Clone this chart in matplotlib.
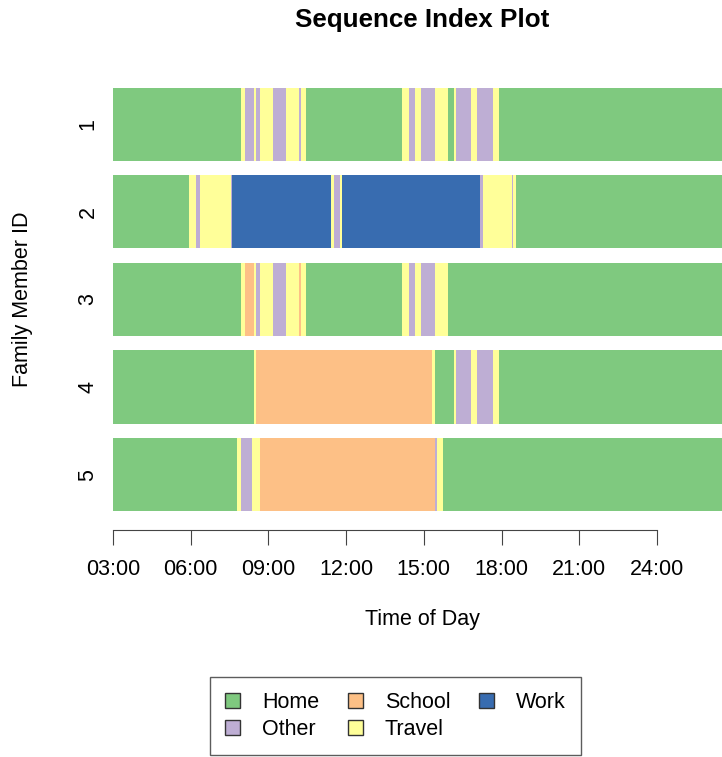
import numpy as np
import matplotlib.pyplot as plt
from matplotlib.patches import Patch

plt.rcParams['font.family'] = ['Liberation Sans', 'DejaVu Sans']

# states and colours (Accent palette)
state_names = ['Home', 'Other', 'School', 'Travel', 'Work']
state_colors = {'Home': '#7FC97F', 'Other': '#BEAED4', 'School': '#FDC086',
                'Travel': '#FFFF99', 'Work': '#386CB0'}

# episode start times (hours from midnight, day runs 03:00 -> 27:00)
day_end = 27.0

m1_start = [3.00, 7.93, 8.10, 8.45, 8.52, 8.69, 9.19, 9.67, 10.19, 10.26, 10.44,
            14.17, 14.41, 14.66, 14.90, 15.43, 15.92, 16.18, 16.23, 16.82, 17.07,
            17.66, 17.90]
m1_state = ['Home', 'Travel', 'Other', 'Travel', 'Other', 'Travel', 'Other', 'Travel',
            'Other', 'Travel', 'Home', 'Travel', 'Other', 'Travel', 'Other', 'Travel',
            'Home', 'Travel', 'Other', 'Travel', 'Other', 'Travel', 'Home']

m2_start = [3.00, 5.95, 6.19, 6.36, 7.56, 7.61, 11.43, 11.52, 11.76, 11.83, 17.17,
            17.27, 18.39, 18.46, 18.55]
m2_state = ['Home', 'Travel', 'Other', 'Travel', 'Other', 'Work', 'Travel', 'Other',
            'Travel', 'Work', 'Other', 'Travel', 'Other', 'Travel', 'Home']

m3_start = [3.00, 7.93, 8.10, 8.45, 8.52, 8.69, 9.19, 9.67, 10.19, 10.26, 10.44,
            14.17, 14.41, 14.66, 14.90, 15.43, 15.92]
m3_state = ['Home', 'Travel', 'School', 'Travel', 'Other', 'Travel', 'Other', 'Travel',
            'School', 'Travel', 'Home', 'Travel', 'Other', 'Travel', 'Other', 'Travel',
            'Home']

m4_start = [3.00, 8.46, 8.51, 15.32, 15.42, 16.17, 16.23, 16.82, 17.07, 17.66, 17.90]
m4_state = ['Home', 'Travel', 'School', 'Travel', 'Home', 'Travel', 'Other', 'Travel',
            'Other', 'Travel', 'Home']

m5_start = [3.00, 7.79, 7.93, 8.35, 8.69, 15.43, 15.50, 15.74]
m5_state = ['Home', 'Travel', 'Other', 'Travel', 'School', 'Other', 'Travel', 'Home']

members = [1, 2, 3, 4, 5]
starts = [m1_start, m2_start, m3_start, m4_start, m5_start]
states = [m1_state, m2_state, m3_state, m4_state, m5_state]

tick_hours = [3, 6, 9, 12, 15, 18, 21, 24]
tick_labels = ['03:00', '06:00', '09:00', '12:00', '15:00', '18:00', '21:00', '24:00']

fig = plt.figure(figsize=(7.22, 7.57), dpi=100)
ax = fig.add_axes([0.1565, 0.3151, 0.861, 0.5787])

for m, st, sq in zip(members, starts, states):
    st = np.asarray(st)
    ends = np.append(st[1:], day_end)
    ax.barh(np.full(len(st), m), ends - st, left=st, height=0.835,
            color=[state_colors[s] for s in sq], edgecolor='none')

ax.set_xlim(3, day_end)
ax.set_ylim(5.5, 0.5)

for side in ['top', 'right', 'left']:
    ax.spines[side].set_visible(False)
ax.spines['bottom'].set_position(('outward', 8))
ax.spines['bottom'].set_bounds(3, 24)
ax.spines['bottom'].set_color('#444444')

ax.set_xticks(tick_hours)
ax.set_xticklabels(tick_labels, fontsize=15.5)
ax.tick_params(axis='x', length=11, pad=10, color='#444444')

ax.set_yticks(members)
ax.set_yticklabels([str(m) for m in members], fontsize=15.5)
ax.tick_params(axis='y', length=0, pad=18)
for lab in ax.get_yticklabels():
    lab.set_rotation(90)
    lab.set_ha('center')
    lab.set_va('center')

fig.text(0.5845, 0.9736, 'Sequence Index Plot', ha='center', va='center',
         fontsize=18.7, fontweight='bold')
fig.text(0.5845, 0.181, 'Time of Day', ha='center', va='center', fontsize=15.5)
fig.text(0.0305, 0.605, 'Family Member ID', ha='center', va='center',
         rotation=90, fontsize=15.5)

handles = [Patch(facecolor=state_colors[s], edgecolor='#333333', label=s)
           for s in state_names]
leg = fig.legend(handles=handles, ncol=3, loc='center',
                 bbox_to_anchor=(0.5478, 0.0542), fontsize=15.5,
                 frameon=True, fancybox=False, edgecolor='#333333',
                 handlelength=0.7, handleheight=0.7, handletextpad=1.0,
                 columnspacing=1.35, labelspacing=0.25, borderpad=0.7)
leg.get_frame().set_linewidth(1.0)

fig.savefig('out.png', dpi=100)
